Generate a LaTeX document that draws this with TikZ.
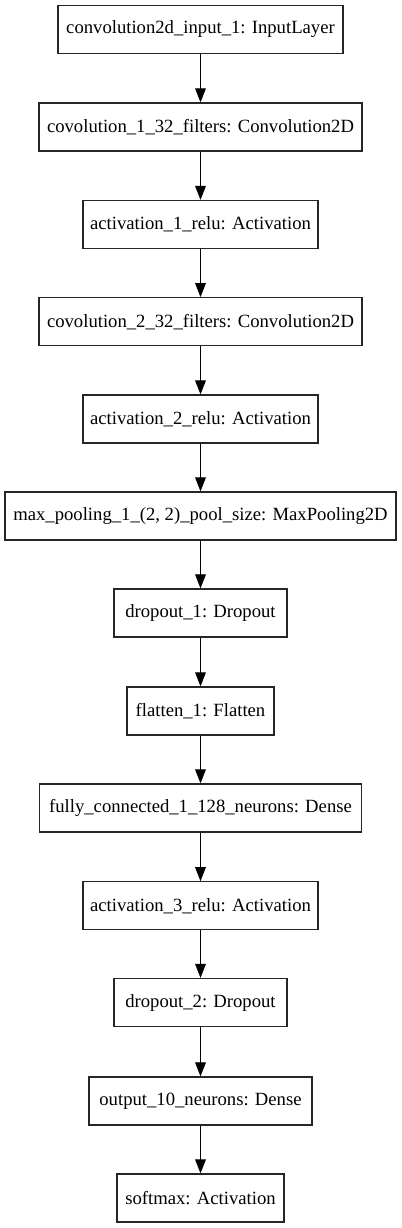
\documentclass[tikz,border=0pt]{standalone}
\usepackage{fontspec}
\setmainfont{Liberation Serif}
\usetikzlibrary{arrows.meta}
\begin{document}
\begin{tikzpicture}[x=0.75pt,y=-0.75pt,
  layer/.style={draw=black!85, line width=0.9pt, rectangle, minimum height=36pt, inner sep=0pt, font=\fontsize{14}{16}\selectfont},
  conn/.style={line width=0.8pt, -{Triangle[length=10.5pt,width=8pt]}}]
\useasboundingbox (0,0) rectangle (401,1228);
\def\cx{200.5}
\node[layer, minimum width=213.75pt] (n1) at (\cx,29.5) {convolution2d\_input\_1: InputLayer};
\node[layer, minimum width=242.25pt] (n2) at (\cx,127) {covolution\_1\_32\_filters: Convolution2D};
\node[layer, minimum width=176.25pt] (n3) at (\cx,224.5) {activation\_1\_relu: Activation};
\node[layer, minimum width=242.25pt] (n4) at (\cx,321.7) {covolution\_2\_32\_filters: Convolution2D};
\node[layer, minimum width=176.25pt] (n5) at (\cx,419) {activation\_2\_relu: Activation};
\node[layer, minimum width=293.25pt] (n6) at (\cx,516) {max\_pooling\_1\_(2, 2)\_pool\_size: MaxPooling2D};
\node[layer, minimum width=129.75pt] (n7) at (\cx,613) {dropout\_1: Dropout};
\node[layer, minimum width=110.25pt] (n8) at (\cx,711) {flatten\_1: Flatten};
\node[layer, minimum width=241.5pt] (n9) at (\cx,808) {fully\_connected\_1\_128\_neurons: Dense};
\node[layer, minimum width=176.25pt] (n10) at (\cx,905.8) {activation\_3\_relu: Activation};
\node[layer, minimum width=129.75pt] (n11) at (\cx,1002.5) {dropout\_2: Dropout};
\node[layer, minimum width=167.25pt] (n12) at (\cx,1101) {output\_10\_neurons: Dense};
\node[layer, minimum width=125.25pt] (n13) at (\cx,1198) {softmax: Activation};
\foreach \a/\b in {n1/n2,n2/n3,n3/n4,n4/n5,n5/n6,n6/n7,n7/n8,n8/n9,n9/n10,n10/n11,n11/n12,n12/n13}
  \draw[conn] (\a.south) -- (\b.north);
\end{tikzpicture}
\end{document}
